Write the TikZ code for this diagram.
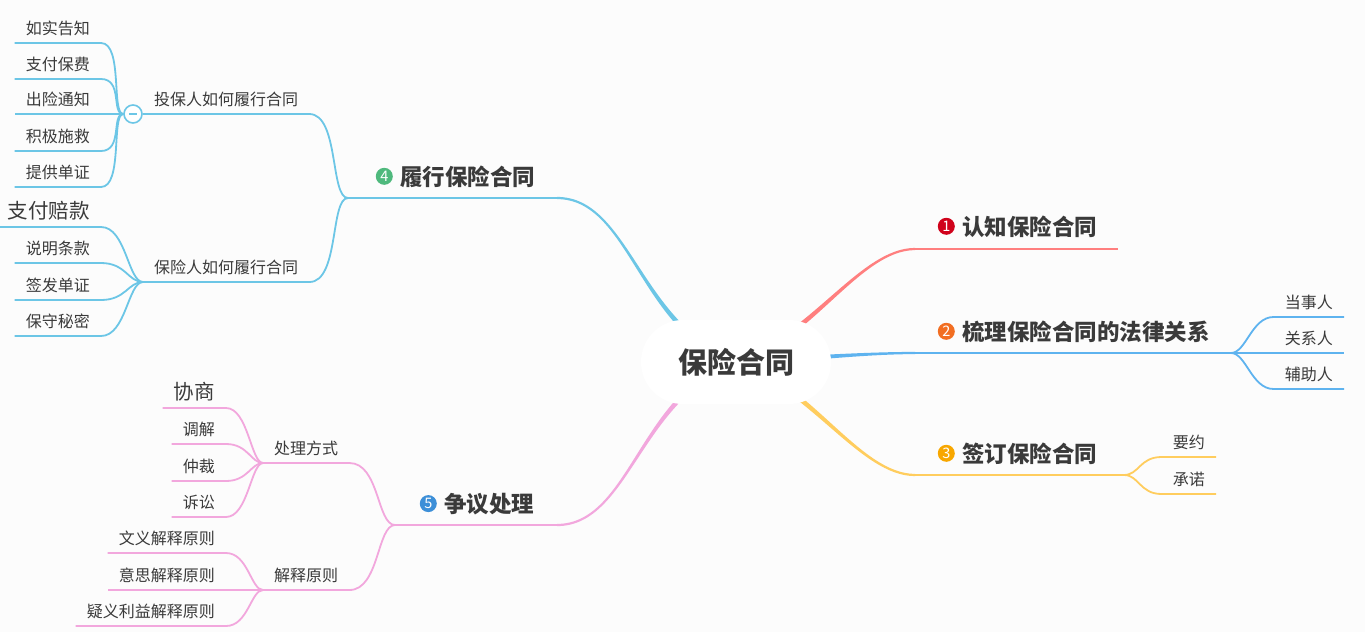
\documentclass[tikz,border=0pt]{standalone}
\usepackage{fontspec}
\newfontfamily\cjk{Noto Sans CJK SC}
\usetikzlibrary{calc, positioning}
\definecolor{bgcol}{HTML}{FCFCFC}
\definecolor{txt}{HTML}{3A3A3A}
\definecolor{c1}{HTML}{FF7F7F}
\definecolor{c2}{HTML}{5EB3EF}
\definecolor{c3}{HTML}{FFCD5E}
\definecolor{c4}{HTML}{6CC6E6}
\definecolor{c5}{HTML}{F2A7DD}
\definecolor{d1}{HTML}{D0021B}
\definecolor{d2}{HTML}{F26E22}
\definecolor{d3}{HTML}{F8A700}
\definecolor{d4}{HTML}{4FB97D}
\definecolor{d5}{HTML}{3D8FD8}
% tapered main branch: colour, start, control 1, control 2, end
\newcommand{\branchfill}[5]{%
  \fill[#1] ($(#2)!3pt!90:(#3)$) .. controls ($(#3)!3pt!-90:(#2)$) and ($(#4)!1.1pt!90:(#5)$) .. ($(#5)!1.1pt!-90:(#4)$)
    -- ($(#5)!1.1pt!90:(#4)$) .. controls ($(#4)!1.1pt!-90:(#5)$) and ($(#3)!3pt!90:(#2)$) .. ($(#2)!3pt!-90:(#3)$) -- cycle;}

\begin{document}
\begin{tikzpicture}[x=1pt, y=-1pt,
    root/.style={rectangle, rounded corners=42pt, fill=white, minimum width=190pt, minimum height=84pt, text=txt, font=\cjk\bfseries\fontsize{29}{32}\selectfont},
    topic/.style={inner sep=0pt, text=txt, font=\cjk\bfseries\fontsize{22.5}{25}\selectfont},
    badge/.style={circle, inner sep=0pt, minimum size=17pt, text=white, font=\cjk\fontsize{14.5}{14.5}\selectfont},
    sub/.style={inner xsep=11pt, inner ysep=6pt, text depth=2pt, text=txt, font=\cjk\fontsize{16}{18}\selectfont},
    big/.style={sub, font=\cjk\fontsize{20.5}{22}\selectfont},
    fold/.style={circle, draw=c4, line width=1.6pt, fill=white, inner sep=0pt, minimum size=18pt, text=c4},
    link/.style={line width=1.8pt},
    trunk/.style={line width=2.2pt}
]
\fill[bgcol] (0,0) rectangle (1365,632);
\useasboundingbox (0,0) rectangle (1365,632);

\coordinate (c) at (736,362);
\coordinate (a1) at (810,340); \coordinate (b1) at (860,249); \coordinate (m1) at (915,249); \coordinate (e1) at (1118,249);
\coordinate (a2) at (790,360); \coordinate (b2) at (860,353); \coordinate (m2) at (915,353); \coordinate (e2) at (1231,353);
\coordinate (a3) at (810,385); \coordinate (b3) at (860,475); \coordinate (m3) at (915,475); \coordinate (e3) at (1124,475);
\coordinate (a4) at (640,330); \coordinate (b4) at (630,198); \coordinate (m4) at (557,198); \coordinate (e4) at (348,198);
\coordinate (a5) at (640,394); \coordinate (b5) at (630,525); \coordinate (m5) at (557,525); \coordinate (e5) at (395,525);

\branchfill{c1}{c}{a1}{b1}{m1}
\branchfill{c2}{c}{a2}{b2}{m2}
\branchfill{c3}{c}{a3}{b3}{m3}
\branchfill{c4}{c}{a4}{b4}{m4}
\branchfill{c5}{c}{a5}{b5}{m5}
\draw[trunk, c1] (m1) -- (e1);
\draw[trunk, c2] (m2) -- (e2);
\draw[trunk, c3] (m3) -- (e3);
\draw[trunk, c4] (m4) -- (e4);
\draw[trunk, c5] (m5) -- (e5);

\node[root] (root) at (c) {保险合同};

% main topics
\node[topic, anchor=base west] (t1) at (962,235) {认知保险合同};
\node[badge, fill=d1, left=7pt of t1] (n1) {1};
\node[topic, anchor=base west] (t2) at (962,340) {梳理保险合同的法律关系};
\node[badge, fill=d2, left=7pt of t2] (n2) {2};
\node[topic, anchor=base west] (t3) at (962,462) {签订保险合同};
\node[badge, fill=d3, left=7pt of t3] (n3) {3};
\node[topic, anchor=base west] (t4) at (400,185) {履行保险合同};
\node[badge, fill=d4, left=7pt of t4] (n4) {4};
\node[topic, anchor=base west] (t5) at (444,512) {争议处理};
\node[badge, fill=d5, left=7pt of t5] (n5) {5};

% legal relations
\node[sub, anchor=south east] (r1) at (1344,317) {当事人};
\node[sub, anchor=south east] (r2) at (1344,353) {关系人};
\node[sub, anchor=south east] (r3) at (1344,389) {辅助人};
\draw[link, c2] (e2) .. controls +(15,0) and +(-22,0) .. (r1.south west) -- (r1.south east);
\draw[link, c2] (e2) -- (r2.south west) -- (r2.south east);
\draw[link, c2] (e2) .. controls +(15,0) and +(-22,0) .. (r3.south west) -- (r3.south east);

% signing
\node[sub, anchor=south east] (q1) at (1216,457) {要约};
\node[sub, anchor=south east] (q2) at (1216,494) {承诺};
\draw[link, c3] (e3) .. controls +(15,0) and +(-22,0) .. (q1.south west) -- (q1.south east);
\draw[link, c3] (e3) .. controls +(15,0) and +(-22,0) .. (q2.south west) -- (q2.south east);

% performing
\node[fold] (f4) at (133,114) {\rule{8pt}{1.6pt}};
\node[sub, anchor=south west] (p1) at (f4.east) {投保人如何履行合同};
\node[sub, anchor=south west] (p2) at (143,282) {保险人如何履行合同};
\draw[link, c4] (e4) .. controls +(-18,0) and +(30,0) .. (p1.south east) -- (p1.south west);
\draw[link, c4] (e4) .. controls +(-18,0) and +(30,0) .. (p2.south east) -- (p2.south west);

\node[sub, anchor=south east] (h1) at (101,43) {如实告知};
\node[sub, anchor=south east] (h2) at (101,79) {支付保费};
\node[sub, anchor=south east] (h3) at (101,114) {出险通知};
\node[sub, anchor=south east] (h4) at (101,151) {积极施救};
\node[sub, anchor=south east] (h5) at (101,187) {提供单证};
\draw[link, c4] (f4.west) .. controls +(-12,0) and +(22,0) .. (h1.south east) -- (h1.south west);
\draw[link, c4] (f4.west) .. controls +(-12,0) and +(22,0) .. (h2.south east) -- (h2.south west);
\draw[link, c4] (f4.west) -- (h3.south east) -- (h3.south west);
\draw[link, c4] (f4.west) .. controls +(-12,0) and +(22,0) .. (h4.south east) -- (h4.south west);
\draw[link, c4] (f4.west) .. controls +(-12,0) and +(22,0) .. (h5.south east) -- (h5.south west);

\node[big, anchor=south east] (g1) at (101,227) {支付赔款};
\node[sub, anchor=south east] (g2) at (101,263) {说明条款};
\node[sub, anchor=south east] (g3) at (101,300) {签发单证};
\node[sub, anchor=south east] (g4) at (101,336) {保守秘密};
\draw[link, c4] (p2.south west) .. controls +(-15,0) and +(25,0) .. (g1.south east) -- (g1.south west);
\draw[link, c4] (p2.south west) .. controls +(-15,0) and +(25,0) .. (g2.south east) -- (g2.south west);
\draw[link, c4] (p2.south west) .. controls +(-15,0) and +(25,0) .. (g3.south east) -- (g3.south west);
\draw[link, c4] (p2.south west) .. controls +(-15,0) and +(25,0) .. (g4.south east) -- (g4.south west);

% disputes
\node[sub, anchor=south west] (w1) at (263,463) {处理方式};
\node[sub, anchor=south west] (w2) at (263,590) {解释原则};
\draw[link, c5] (e5) .. controls +(-18,0) and +(30,0) .. (w1.south east) -- (w1.south west);
\draw[link, c5] (e5) .. controls +(-18,0) and +(30,0) .. (w2.south east) -- (w2.south west);

\node[big, anchor=south east] (v1) at (226,408) {协商};
\node[sub, anchor=south east] (v2) at (226,444) {调解};
\node[sub, anchor=south east] (v3) at (226,481) {仲裁};
\node[sub, anchor=south east] (v4) at (226,517) {诉讼};
\draw[link, c5] (w1.south west) .. controls +(-12,0) and +(22,0) .. (v1.south east) -- (v1.south west);
\draw[link, c5] (w1.south west) .. controls +(-12,0) and +(22,0) .. (v2.south east) -- (v2.south west);
\draw[link, c5] (w1.south west) .. controls +(-12,0) and +(22,0) .. (v3.south east) -- (v3.south west);
\draw[link, c5] (w1.south west) .. controls +(-12,0) and +(22,0) .. (v4.south east) -- (v4.south west);

\node[sub, anchor=south east] (u1) at (226,553) {文义解释原则};
\node[sub, anchor=south east] (u2) at (226,590) {意思解释原则};
\node[sub, anchor=south east] (u3) at (226,626) {疑义利益解释原则};
\draw[link, c5] (w2.south west) .. controls +(-12,0) and +(22,0) .. (u1.south east) -- (u1.south west);
\draw[link, c5] (w2.south west) -- (u2.south east) -- (u2.south west);
\draw[link, c5] (w2.south west) .. controls +(-12,0) and +(22,0) .. (u3.south east) -- (u3.south west);
\end{tikzpicture}
\end{document}
